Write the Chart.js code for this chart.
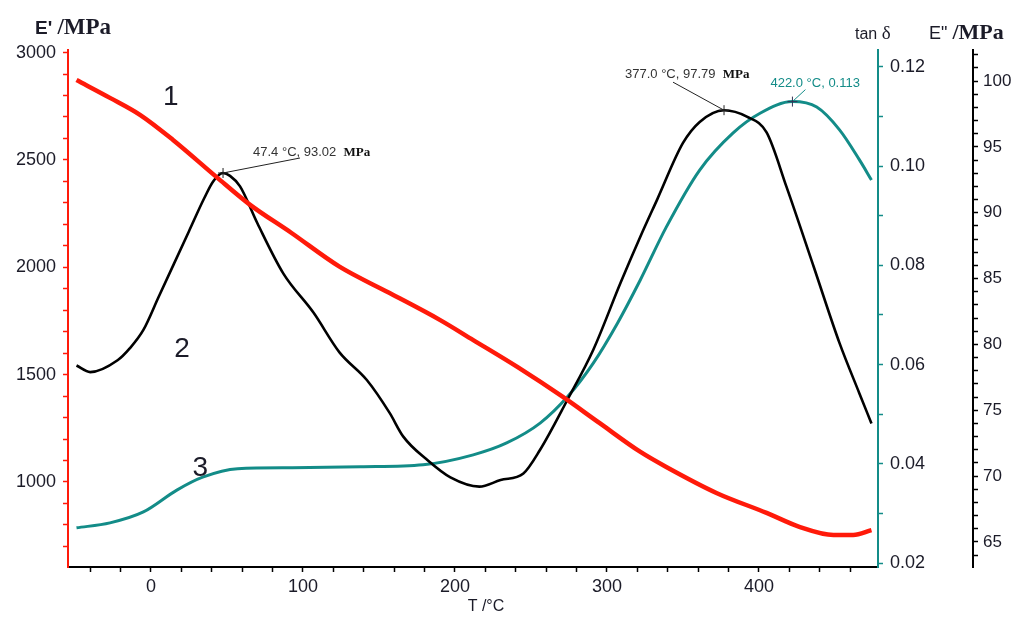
<!DOCTYPE html>
<html>
<head>
<meta charset="utf-8">
<script src="https://cdn.jsdelivr.net/npm/chart.js@4.4.1/dist/chart.umd.min.js"></script>
<style>
  html, body { margin: 0; padding: 0; background: #fff; }
  #wrap { width: 1013px; height: 621px; position: relative; }
</style>
</head>
<body>
<div id="wrap"><canvas id="chart"></canvas></div>
<script>
// curve 1: storage modulus E' (MPa)
const storageTemp = [-49, -27, -7, 14.5, 43, 65, 92, 124, 157, 190, 212, 241, 271, 295, 322, 339, 372, 405, 427, 449, 462, 474];
const storageModulus = [2872, 2789, 2709, 2593, 2421, 2292, 2162, 2003, 1880, 1755, 1661, 1536, 1396, 1275, 1140, 1070, 949, 856, 790, 753, 753, 776];

// curve 2: loss modulus E'' (MPa)
const lossTemp = [-49, -40, -22, -14, -5, 5, 15, 25, 35, 41, 47.4, 52, 58.6, 70, 87, 107, 124, 142, 157, 166, 182, 197, 216, 230, 245, 256, 274, 291, 309, 322, 333, 350, 361, 377, 392, 405, 418, 436, 453, 466, 474];
const lossModulus = [78.4, 77.9, 78.8, 79.7, 81.1, 83.6, 86.1, 88.6, 91.1, 92.4, 93.02, 92.8, 92.0, 89.2, 85.4, 82.4, 79.4, 77.3, 74.8, 73.0, 71.2, 69.9, 69.2, 69.7, 70.2, 72.0, 75.8, 79.6, 84.7, 88.2, 91.0, 95.3, 96.9, 97.79, 97.3, 96.1, 92.0, 85.9, 80.1, 76.3, 74.0];

// curve 3: loss factor tan delta
const tanTemp = [-49, -27, -5, 17, 34, 57, 93, 138, 179, 212, 234, 256, 274, 291, 307, 322, 339, 361, 383, 401, 422, 438, 453, 466, 474];
const tanDelta = [0.0271, 0.0281, 0.0303, 0.0347, 0.0373, 0.0390, 0.0392, 0.0394, 0.0398, 0.0418, 0.0442, 0.0482, 0.0535, 0.0603, 0.0684, 0.0771, 0.0877, 0.0992, 0.1067, 0.1107, 0.113, 0.1119, 0.1073, 0.1013, 0.0972];

// marked peaks
const lossPeakTemp = [47.4, 377.0];
const lossPeakValue = [93.02, 97.79];
const tanPeakTemp = [422.0];
const tanPeakValue = [0.113];

// tick labels
const xLabels = [0, 100, 200, 300, 400];
const storageLabels = [1000, 1500, 2000, 2500, 3000];
const tanLabels = [0.02, 0.04, 0.06, 0.08, 0.10, 0.12];
const lossLabels = [65, 70, 75, 80, 85, 90, 95, 100];

const RED = '#ff1a0a';
const TEAL = '#138c88';
const INK = '#1b1b28';
const SANS = 'Arial, "Liberation Sans", sans-serif';
const SERIF = '"Times New Roman", "Liberation Serif", serif';

const range = (a, b, step) => {
  const out = [];
  for (let i = 0; a + i * step <= b + 1e-9; i++) out.push(+(a + i * step).toFixed(4));
  return out;
};
const xMinor = range(-40, 460, 20);
const storageMinor = range(700, 3000, 100);
const tanMinor = range(0.02, 0.12, 0.01);
const lossMinor = range(64, 102, 1);

const pts = (xs, ys) => xs.map((x, i) => ({ x, y: ys[i] }));

function axis(pos, min, max, width, minor, labels, color, fmt, size, pad) {
  return {
    type: 'linear',
    position: pos,
    min, max,
    afterFit: s => { s.width = width; },
    afterBuildTicks: s => { s.ticks = minor.map(v => ({ value: v })); },
    ticks: {
      autoSkip: false,
      padding: pad,
      color: INK,
      font: { family: SANS, size },
      callback: v => labels.some(l => Math.abs(l - v) < 1e-6) ? fmt(v) : ''
    },
    grid: { drawOnChartArea: false, drawTicks: true, tickLength: 5, tickColor: color, tickWidth: 1.5 },
    border: { color, width: 2 }
  };
}

function drawRun(ctx, x, y, parts) {
  ctx.textAlign = 'left';
  ctx.textBaseline = 'alphabetic';
  for (const p of parts) {
    ctx.font = p.font;
    ctx.fillStyle = p.color;
    ctx.fillText(p.text, x, y);
    x += ctx.measureText(p.text).width;
  }
}

function cross(ctx, x, y, color) {
  ctx.strokeStyle = color;
  ctx.lineWidth = 1;
  ctx.beginPath();
  ctx.moveTo(x - 5, y); ctx.lineTo(x + 5, y);
  ctx.moveTo(x, y - 5); ctx.lineTo(x, y + 5);
  ctx.stroke();
}

function leader(ctx, x0, y0, x1, y1, color) {
  ctx.strokeStyle = color;
  ctx.lineWidth = 1;
  ctx.beginPath();
  ctx.moveTo(x0, y0); ctx.lineTo(x1, y1);
  ctx.stroke();
}

// axis titles, curve numbers and peak callouts
const decorations = {
  id: 'decorations',
  afterDraw(chart) {
    const { ctx, chartArea, scales } = chart;
    const { x, yE1, yTan, yE2 } = scales;
    ctx.save();

    drawRun(ctx, yE1.left + 35, chartArea.top - 16, [
      { text: "E' ", font: `bold 19px ${SANS}`, color: INK },
      { text: '/MPa', font: `bold 23px ${SERIF}`, color: INK }
    ]);
    drawRun(ctx, yTan.left - 23, chartArea.top - 11, [
      { text: 'tan ', font: `16px ${SANS}`, color: INK },
      { text: 'δ', font: `19px ${SERIF}`, color: INK }
    ]);
    drawRun(ctx, yE2.left - 44, chartArea.top - 11, [
      { text: 'E" ', font: `18px ${SANS}`, color: INK },
      { text: '/MPa', font: `bold 22px ${SERIF}`, color: INK }
    ]);
    ctx.font = `16px ${SANS}`;
    ctx.fillStyle = INK;
    ctx.textAlign = 'center';
    ctx.textBaseline = 'middle';
    ctx.fillText('T /°C', (chartArea.left + chartArea.right) / 2 + 13, chartArea.bottom + 40);

    // curve numbers
    ctx.font = `28px ${SANS}`;
    ctx.fillText('1', x.getPixelForValue(13), yE1.getPixelForValue(2790));
    ctx.fillText('2', x.getPixelForValue(20.5), yE1.getPixelForValue(1620));
    ctx.fillText('3', x.getPixelForValue(32.5), yE1.getPixelForValue(1062));

    // loss modulus peaks
    const offsets = [
      { tx: 30, ty: -17, lx: 77, ly: -15 },
      { tx: -99, ty: -32, lx: -51, ly: -28 }
    ];
    lossPeakTemp.forEach((t, i) => {
      const px = x.getPixelForValue(t);
      const py = yE2.getPixelForValue(lossPeakValue[i]);
      const o = offsets[i];
      leader(ctx, px, py, px + o.lx, py + o.ly, '#222');
      cross(ctx, px, py, '#222');
      drawRun(ctx, px + o.tx, py + o.ty, [
        { text: `${t.toFixed(1)} °C, ${lossPeakValue[i].toFixed(2)}  `, font: `13px ${SANS}`, color: '#333' },
        { text: 'MPa', font: `bold 13px ${SERIF}`, color: '#111' }
      ]);
    });

    // tan delta peak
    tanPeakTemp.forEach((t, i) => {
      const px = x.getPixelForValue(t);
      const py = yTan.getPixelForValue(tanPeakValue[i]);
      leader(ctx, px, py, px + 13, py - 12, TEAL);
      cross(ctx, px, py, '#335');
      drawRun(ctx, px - 22, py - 15, [
        { text: `${t.toFixed(1)} °C, ${tanPeakValue[i]}`, font: `13px ${SANS}`, color: TEAL }
      ]);
    });

    ctx.restore();
  }
};

new Chart(document.getElementById('chart'), {
  type: 'line',
  data: {
    datasets: [
      {
        label: "E'",
        data: pts(storageTemp, storageModulus),
        yAxisID: 'yE1',
        borderColor: RED,
        borderWidth: 4.5
      },
      {
        label: 'E"',
        data: pts(lossTemp, lossModulus),
        yAxisID: 'yE2',
        borderColor: '#000',
        borderWidth: 2.6
      },
      {
        label: 'tan δ',
        data: pts(tanTemp, tanDelta),
        yAxisID: 'yTan',
        borderColor: TEAL,
        borderWidth: 3
      }
    ]
  },
  options: {
    responsive: true,
    maintainAspectRatio: false,
    animation: false,
    layout: { padding: { top: 50, left: 0, right: 0, bottom: 0 } },
    elements: {
      point: { radius: 0, hoverRadius: 0 },
      line: { cubicInterpolationMode: 'monotone', fill: false }
    },
    plugins: { legend: { display: false }, tooltip: { enabled: false } },
    scales: {
      x: {
        type: 'linear',
        position: 'bottom',
        min: -54.6,
        max: 478.3,
        afterFit: s => { s.height = 54; },
        afterBuildTicks: s => { s.ticks = xMinor.map(v => ({ value: v })); },
        ticks: {
          autoSkip: false,
          maxRotation: 0,
          padding: 4,
          color: INK,
          font: { family: SANS, size: 18 },
          callback: v => xLabels.includes(v) ? String(v) : ''
        },
        grid: { drawOnChartArea: false, drawTicks: true, tickLength: 5, tickColor: '#000', tickWidth: 1.5 },
        border: { color: '#000', width: 2 }
      },
      yE1: axis('left', 604, 3012, 68, storageMinor, storageLabels, RED, v => String(v), 18, 7),
      yTan: axis('right', 0.0192, 0.1234, 95, tanMinor, tanLabels, TEAL, v => v.toFixed(2), 18, 7),
      yE2: axis('right', 63.1, 102.36, 40, lossMinor, lossLabels, '#000', v => String(v), 17, 5)
    }
  },
  plugins: [decorations]
});
</script>
</body>
</html>
